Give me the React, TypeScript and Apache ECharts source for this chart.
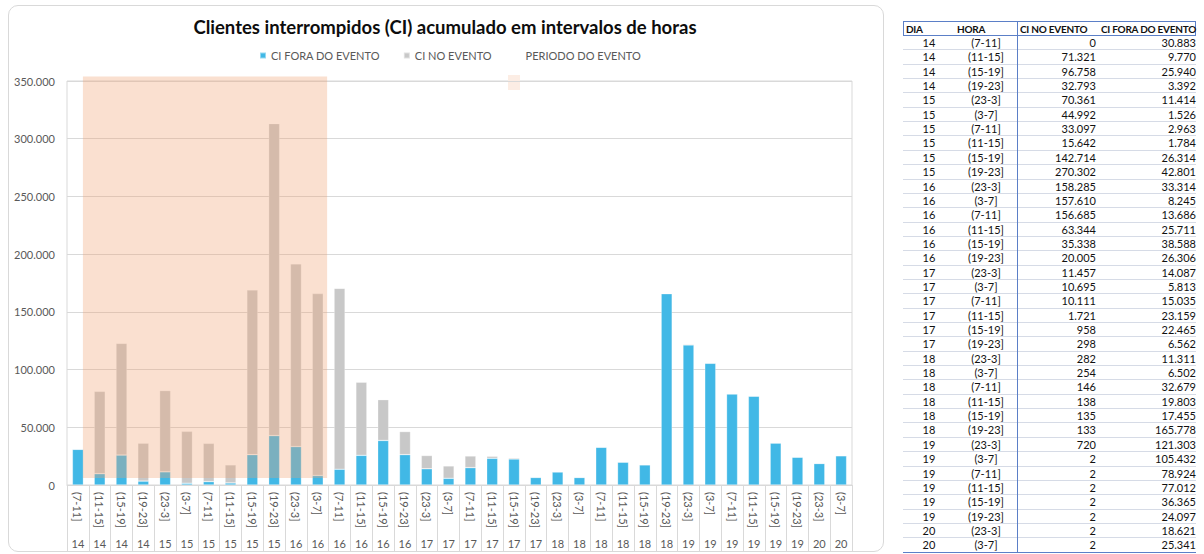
import React, { useEffect, useRef } from "react";
import * as echarts from "echarts";

const days = [14, 14, 14, 14, 15, 15, 15, 15, 15, 15, 16, 16, 16, 16, 16, 16, 17, 17, 17, 17, 17, 17, 18, 18, 18, 18, 18, 18, 19, 19, 19, 19, 19, 19, 20, 20];
const hours = [
  "(7-11]", "(11-15]", "(15-19]", "(19-23]",
  "(23-3]", "(3-7]", "(7-11]", "(11-15]", "(15-19]", "(19-23]",
  "(23-3]", "(3-7]", "(7-11]", "(11-15]", "(15-19]", "(19-23]",
  "(23-3]", "(3-7]", "(7-11]", "(11-15]", "(15-19]", "(19-23]",
  "(23-3]", "(3-7]", "(7-11]", "(11-15]", "(15-19]", "(19-23]",
  "(23-3]", "(3-7]", "(7-11]", "(11-15]", "(15-19]", "(19-23]",
  "(23-3]", "(3-7]",
];
const ciNoEvento = [
  0, 71321, 96758, 32793,
  70361, 44992, 33097, 15642, 142714, 270302,
  158285, 157610, 156685, 63344, 35338, 20005,
  11457, 10695, 10111, 1721, 958, 298,
  282, 254, 146, 138, 135, 133,
  720, 2, 2, 2, 2, 2,
  2, 2,
];
const ciForaEvento = [
  30883, 9770, 25940, 3392,
  11414, 1526, 2963, 1784, 26314, 42801,
  33314, 8245, 13686, 25711, 38588, 26306,
  14087, 5813, 15035, 23159, 22465, 6562,
  11311, 6502, 32679, 19803, 17455, 165778,
  121303, 105432, 78924, 77012, 36365, 24097,
  18621, 25341,
];
// event period, in category-index units and axis values
const eventStart = 0.23;
const eventEnd = 11.43;
const eventBottom = 6000;
const eventTop = 354000;

const yTicks = { min: 0, max: 350000, interval: 50000 };

const fmt = (n: number) => String(n).replace(/\B(?=(\d{3})+(?!\d))/g, ".");

const FONT = "Lato, 'Open Sans', sans-serif";

function Chart() {
  const ref = useRef<HTMLDivElement>(null);
  useEffect(() => {
    if (!ref.current) return;
    const chart = echarts.init(ref.current, undefined, { renderer: "svg" });
    chart.setOption({
      animation: false,
      textStyle: { fontFamily: FONT },
      title: {
        text: "Clientes interrompidos (CI) acumulado em intervalos de horas",
        left: "center",
        top: 12,
        textStyle: { fontSize: 18.5, fontWeight: "bold", color: "#0d0d0d", fontFamily: FONT },
      },
      legend: {
        left: 254,
        top: 45,
        itemWidth: 6,
        itemHeight: 6,
        itemGap: 23,
        selectedMode: false,
        textStyle: { fontSize: 11, color: "#595959", fontFamily: FONT },
        data: [
          { name: "CI FORA DO EVENTO", icon: "rect" },
          { name: "CI NO EVENTO", icon: "rect" },
          { name: "PERIODO DO EVENTO", icon: "none" },
        ],
      },
      graphic: [
        { type: "rect", left: 508, top: 75, shape: { width: 12, height: 15 }, style: { fill: "#fcede4" } },
      ],
      grid: {
        left: 67,
        right: 38,
        top: 81,
        bottom: 69,
        show: true,
        borderColor: "#d9d9d9",
        borderWidth: 1,
        containLabel: false,
      },
      xAxis: [
        {
          type: "category",
          data: hours,
          position: "bottom",
          axisLine: { show: true, lineStyle: { color: "#d9d9d9" } },
          axisTick: { show: true, interval: 0, length: 67, lineStyle: { color: "#d9d9d9" } },
          axisLabel: { rotate: -90, interval: 0, margin: 7, fontSize: 11, color: "#595959", fontFamily: FONT },
        },
        {
          type: "category",
          data: days,
          position: "bottom",
          axisLine: { show: false },
          axisTick: { show: false },
          axisLabel: { interval: 0, margin: 53, fontSize: 11, color: "#595959", fontFamily: FONT },
        },
        {
          type: "value",
          show: false,
          min: -0.5,
          max: hours.length - 0.5,
        },
      ],
      yAxis: {
        type: "value",
        min: yTicks.min,
        max: yTicks.max,
        interval: yTicks.interval,
        axisLine: { show: false },
        axisTick: { show: false },
        splitLine: { lineStyle: { color: "#d9d9d9" } },
        axisLabel: { margin: 12, fontSize: 11, color: "#595959", fontFamily: FONT, formatter: (v: number) => fmt(v) },
      },
      series: [
        {
          name: "CI FORA DO EVENTO",
          type: "bar",
          stack: "total",
          xAxisIndex: 0,
          barWidth: 11,
          data: ciForaEvento,
          itemStyle: { color: "#41b8e6", borderColor: "rgba(255,255,255,0.45)", borderWidth: 0.6 },
        },
        {
          name: "CI NO EVENTO",
          type: "bar",
          stack: "total",
          xAxisIndex: 0,
          barWidth: 11,
          data: ciNoEvento,
          itemStyle: { color: "#c8c8c8", borderColor: "rgba(255,255,255,0.45)", borderWidth: 0.6 },
        },
        {
          name: "PERIODO DO EVENTO",
          type: "custom",
          xAxisIndex: 2,
          z: 5,
          clip: false,
          data: [[eventStart, eventEnd, eventBottom, eventTop]],
          encode: { x: [0, 1], y: [2, 3] },
          renderItem: (_params: any, api: any) => {
            const p1 = api.coord([api.value(0), api.value(3)]);
            const p2 = api.coord([api.value(1), api.value(2)]);
            return {
              type: "rect",
              shape: { x: p1[0], y: p1[1], width: p2[0] - p1[0], height: p2[1] - p1[1] },
              style: { fill: "rgba(240,161,113,0.33)" },
            };
          },
        },
      ],
    });
    return () => chart.dispose();
  }, []);
  return <div ref={ref} style={{ position: "absolute", left: 0, top: 0, width: 890, height: 554 }} />;
}

function Table() {
  const headerTop = 21;
  const headerH = 15;
  const rowH = 14.35;
  const left = 903;
  const width = 293;
  const blue = "#5b7fc7";
  const cell: React.CSSProperties = {
    position: "absolute",
    fontFamily: FONT,
    fontSize: 11,
    color: "#111",
    whiteSpace: "nowrap",
    lineHeight: "14px",
  };
  const hdr: React.CSSProperties = { ...cell, fontWeight: "bold", fontSize: 10, letterSpacing: "-0.25px", top: headerTop + 1 };
  return (
    <div style={{ position: "absolute", left: 0, top: 0, width: 1204, height: 554 }}>
      <div style={{ position: "absolute", left, top: headerTop, width, height: headerH, boxSizing: "border-box", border: `1px solid ${blue}` }} />
      <div style={{ ...hdr, left: 906 }}>DIA</div>
      <div style={{ ...hdr, left: 957 }}>HORA</div>
      <div style={{ ...hdr, left: 1020 }}>CI NO EVENTO</div>
      <div style={{ ...hdr, left: 1101 }}>CI FORA DO EVENTO</div>
      {hours.map((h, i) => {
        const top = headerTop + headerH + i * rowH;
        return (
          <React.Fragment key={i}>
            <div style={{ position: "absolute", left, top: top + rowH - 1, width, height: 1, background: i === hours.length - 1 ? blue : "#d6dbe6" }} />
            <div style={{ ...cell, top, left: 903, width: 52, textAlign: "center" }}>{days[i]}</div>
            <div style={{ ...cell, top, left: 955, width: 62, textAlign: "center" }}>{h}</div>
            <div style={{ ...cell, top, left: 1018, width: 78, textAlign: "right" }}>{fmt(ciNoEvento[i])}</div>
            <div style={{ ...cell, top, left: 1096, width: 100, textAlign: "right" }}>{fmt(ciForaEvento[i])}</div>
          </React.Fragment>
        );
      })}
      <div style={{ position: "absolute", left: 1017, top: headerTop, width: 1, height: headerH + hours.length * rowH, background: blue }} />
    </div>
  );
}

export default function App() {
  return (
    <div style={{ position: "fixed", left: 0, top: 0, width: 1204, height: 554, background: "#fff", overflow: "hidden" }}>
      <div style={{ position: "absolute", left: 8, top: 5, width: 876, height: 547, boxSizing: "border-box", border: "1px solid #d9d9d9", borderRadius: 10 }} />
      <Chart />
      <Table />
    </div>
  );
}
